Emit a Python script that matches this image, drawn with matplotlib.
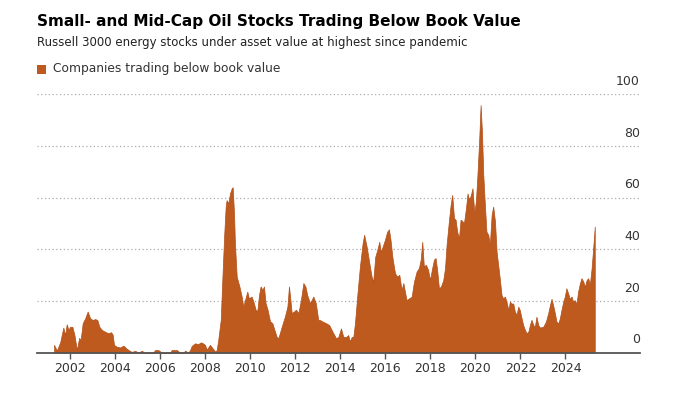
import matplotlib.pyplot as plt
from matplotlib.transforms import offset_copy

# ====== DATA ======
years = [
    2001.29, 2001.41, 2001.56, 2001.70, 2001.78, 2001.85, 2001.93, 2002.00, 2002.10, 2002.19,
    2002.30, 2002.40, 2002.47, 2002.56, 2002.67, 2002.78, 2002.89, 2003.01, 2003.11, 2003.21,
    2003.30, 2003.41, 2003.55, 2003.70, 2003.82, 2003.89, 2003.95, 2004.07, 2004.22, 2004.37,
    2004.49, 2004.63, 2004.74, 2004.89, 2005.03, 2005.18, 2005.33, 2005.70, 2005.77, 2005.92,
    2006.07, 2006.45, 2006.51, 2006.74, 2006.88, 2007.05, 2007.10, 2007.25, 2007.33, 2007.40,
    2007.55, 2007.69, 2007.81, 2007.92, 2007.99, 2008.07, 2008.21, 2008.33, 2008.44, 2008.51,
    2008.58, 2008.69, 2008.76, 2008.84, 2008.91, 2008.95, 2009.03, 2009.10, 2009.18, 2009.22,
    2009.28, 2009.32, 2009.40, 2009.52, 2009.62, 2009.69, 2009.77, 2009.87, 2009.94, 2010.06,
    2010.14, 2010.24, 2010.31, 2010.39, 2010.46, 2010.54, 2010.61, 2010.68, 2010.77, 2010.88,
    2010.98, 2011.05, 2011.17, 2011.25, 2011.40, 2011.54, 2011.65, 2011.72, 2011.77, 2011.84,
    2011.94, 2012.03, 2012.14, 2012.25, 2012.36, 2012.45, 2012.53, 2012.65, 2012.73, 2012.80,
    2012.91, 2013.02, 2013.10, 2013.24, 2013.39, 2013.51, 2013.66, 2013.81, 2013.91, 2014.03,
    2014.13, 2014.25, 2014.35, 2014.43, 2014.50, 2014.58, 2014.65, 2014.75, 2014.87, 2014.99,
    2015.06, 2015.17, 2015.29, 2015.39, 2015.46, 2015.55, 2015.64, 2015.73, 2015.80, 2015.88,
    2015.98, 2016.08, 2016.16, 2016.23, 2016.32, 2016.43, 2016.53, 2016.62, 2016.72, 2016.80,
    2016.87, 2016.94, 2017.06, 2017.17, 2017.27, 2017.39, 2017.49, 2017.57, 2017.64, 2017.71,
    2017.80, 2017.90, 2017.98, 2018.08, 2018.16, 2018.23, 2018.30, 2018.38, 2018.47, 2018.57,
    2018.65, 2018.72, 2018.82, 2018.90, 2018.97, 2019.05, 2019.12, 2019.19, 2019.27, 2019.34,
    2019.41, 2019.49, 2019.58, 2019.65, 2019.72, 2019.80, 2019.87, 2019.95, 2020.02, 2020.09,
    2020.17, 2020.23, 2020.29, 2020.35, 2020.42, 2020.49, 2020.57, 2020.64, 2020.72, 2020.79,
    2020.87, 2020.94, 2021.01, 2021.08, 2021.16, 2021.23, 2021.31, 2021.38, 2021.46, 2021.53,
    2021.60, 2021.68, 2021.75, 2021.83, 2021.90, 2021.97, 2022.05, 2022.12, 2022.20, 2022.27,
    2022.35, 2022.42, 2022.49, 2022.57, 2022.64, 2022.71, 2022.79, 2022.86, 2023.01, 2023.13,
    2023.23, 2023.31, 2023.38, 2023.45, 2023.53, 2023.60, 2023.68, 2023.75, 2023.82, 2023.90,
    2023.97, 2024.04, 2024.12, 2024.19, 2024.27, 2024.34, 2024.41, 2024.49, 2024.56, 2024.64,
    2024.71, 2024.79, 2024.86, 2024.94, 2025.01, 2025.08, 2025.16, 2025.23, 2025.30,
]
below_book = [
    3.0, 0.8, 4.0, 9.7, 6.8, 11.0, 8.8, 10.0, 10.0, 7.0,
    1.0, 5.7, 5.0, 11.4, 13.3, 15.9, 13.3, 12.6, 13.0, 12.6,
    10.0, 8.8, 8.1, 7.5, 7.9, 7.0, 3.0, 2.3, 2.0, 2.7,
    1.7, 0.8, 0.3, 0.7, 0.0, 0.7, 0.0, 0.0, 1.0, 1.0,
    0.0, 0.0, 1.0, 1.0, 0.0, 0.0, 0.8, 0.0, 1.0, 2.6,
    3.6, 3.3, 4.0, 3.5, 3.0, 1.2, 3.0, 1.7, 0.4, 1.0,
    5.0, 12.7, 28.2, 44.9, 56.6, 59.0, 57.8, 61.6, 63.6, 64.0,
    53.9, 42.3, 29.4, 25.6, 21.7, 17.8, 20.4, 23.6, 21.0, 21.7,
    19.8, 16.6, 15.9, 22.3, 25.6, 24.3, 25.6, 19.2, 16.6, 12.1,
    11.4, 9.5, 6.2, 5.6, 10.1, 14.0, 17.8, 25.6, 21.7, 15.3,
    15.9, 16.6, 15.3, 20.4, 26.9, 25.6, 22.3, 19.2, 20.4, 21.7,
    19.2, 12.7, 12.6, 11.9, 11.3, 10.6, 8.0, 5.6, 6.0, 9.4,
    6.2, 6.0, 6.8, 4.3, 6.0, 6.2, 11.3, 21.7, 33.3, 42.3,
    45.6, 41.0, 34.6, 29.4, 27.4, 37.0, 39.7, 42.9, 39.0, 41.0,
    43.6, 46.8, 47.7, 43.6, 36.5, 30.7, 29.4, 30.1, 24.3, 26.9,
    23.6, 20.4, 21.0, 21.7, 27.4, 31.4, 32.7, 36.0, 42.9, 33.3,
    34.0, 32.0, 28.1, 32.7, 36.0, 36.6, 32.0, 24.9, 25.6, 28.0,
    32.7, 41.7, 50.7, 57.2, 61.0, 52.0, 51.4, 46.8, 44.2, 51.4,
    51.0, 50.0, 55.8, 61.6, 59.0, 61.0, 63.6, 54.0, 58.4, 68.8,
    82.9, 95.8, 85.5, 68.8, 57.2, 46.8, 45.6, 41.7, 53.3, 56.5,
    50.7, 39.1, 34.0, 28.8, 22.3, 21.0, 21.7, 19.7, 16.5, 19.7,
    19.0, 19.0, 15.9, 14.6, 17.8, 16.5, 13.3, 10.7, 8.8, 7.5,
    8.1, 10.7, 12.7, 10.7, 10.0, 13.9, 10.7, 9.7, 10.0, 12.0,
    15.2, 18.4, 20.8, 18.4, 15.2, 12.0, 11.3, 13.3, 16.5, 19.7,
    21.7, 24.9, 22.9, 20.8, 21.7, 19.7, 20.3, 19.0, 23.6, 26.8,
    28.8, 27.5, 25.5, 28.1, 28.8, 26.2, 32.7, 40.4, 48.8,
]
x_ticks = list(range(2002, 2025, 2))
y_ticks = [0, 20, 40, 60, 80, 100]

fill_color = '#bf5a1f'

# ====== PLOTTING ======
fig = plt.figure(figsize=(7, 3.94), dpi=100)
ax = fig.add_axes([0.053, 0.105, 0.861, 0.656])

ax.fill_between(years, below_book, 0, facecolor=fill_color,
                edgecolor='#b0501a', linewidth=0.5)

ax.set_xlim(2000.535, 2027.3)
ax.set_ylim(0, 100)

# dotted gridlines, labels sit above the lines on the right
ax.set_yticks(y_ticks)
ax.yaxis.grid(True, linestyle=(0, (1, 2)), color='#aaaaaa', linewidth=0.9)
ax.tick_params(axis='y', left=False, labelleft=False)
ax.set_axisbelow(True)
lab_tr = offset_copy(ax.get_yaxis_transform(), fig=fig, x=0, y=4.5, units='points')
for v in y_ticks:
    ax.text(1.0, v, str(v), transform=lab_tr, ha='right', va='bottom',
            fontsize=9, color='#333333')

ax.set_xticks(x_ticks)
ax.set_xticklabels([str(t) for t in x_ticks])
ax.tick_params(axis='x', direction='out', length=4, width=1, color='#555555',
               labelsize=9, labelcolor='#333333', pad=2.5)

for s in ['top', 'right', 'left']:
    ax.spines[s].set_visible(False)
ax.spines['bottom'].set_color('#555555')
ax.spines['bottom'].set_linewidth(1.3)

# ====== TITLES + LEGEND ======
fig.text(0.053, 0.945, "Small- and Mid-Cap Oil Stocks Trading Below Book Value",
         fontsize=11, fontweight='bold', color='black', va='center')
fig.text(0.053, 0.892, "Russell 3000 energy stocks under asset value at highest since pandemic",
         fontsize=8.5, color='#222222', va='center')
fig.patches.append(plt.Rectangle((0.053, 0.813), 0.013, 0.023, transform=fig.transFigure,
                                 facecolor=fill_color, edgecolor='none'))
fig.text(0.076, 0.825, "Companies trading below book value",
         fontsize=8.8, color='#333333', va='center')

fig.savefig("out.png", dpi=100, facecolor='white')
